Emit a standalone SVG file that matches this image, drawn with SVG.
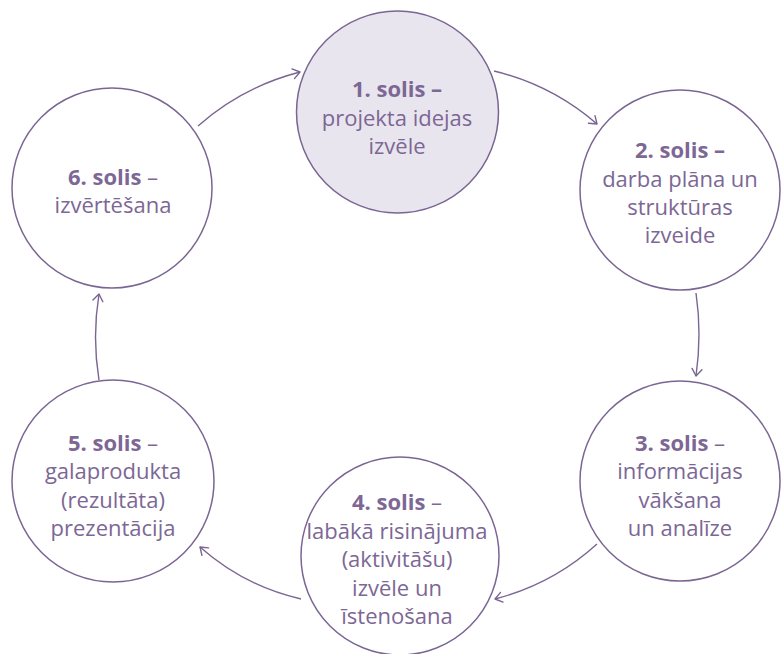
<svg xmlns="http://www.w3.org/2000/svg" width="781" height="654" viewBox="0 0 781 654">
<style>
.c{fill:#ffffff;stroke:#7a6593;stroke-width:1.5}
.c1{fill:#e9e5ee}
text{font-family:"Open Sans","Noto Sans","Liberation Sans",sans-serif;font-size:22px;fill:#7c6795;text-anchor:middle}
.b{font-weight:700}
.n{font-weight:400}
.e{fill:none;stroke:#7a6593;stroke-width:1.4}
</style>
<defs>
<marker id="ah" markerUnits="userSpaceOnUse" markerWidth="14" markerHeight="14" viewBox="0 0 14 14" refX="11" refY="7" orient="auto">
<path d="M4,2 L11,7 L4,12" fill="none" stroke="#7a6593" stroke-width="1.4" stroke-linecap="round" stroke-linejoin="round"/>
</marker>
</defs>
<g id="connectors">
<path class="e" d="M198,126 Q242,87 300,72" marker-end="url(#ah)"/>
<path class="e" d="M494,71 Q552,85 597,124" marker-end="url(#ah)"/>
<path class="e" d="M696,293 Q702,334 696,376" marker-end="url(#ah)"/>
<path class="e" d="M597,544 Q553,584 495,599" marker-end="url(#ah)"/>
<path class="e" d="M301,599 Q244,586 200,547" marker-end="url(#ah)"/>
<path class="e" d="M99,380 Q92,337 99,294" marker-end="url(#ah)"/>
</g>
<g id="step1">
<circle class="c c1" cx="397.5" cy="112" r="101"/>
<text x="397" y="97"><tspan class="b">1. solis –</tspan></text>
<text x="397" y="126">projekta idejas</text>
<text x="397" y="154">izvēle</text>
</g>
<g id="step2">
<circle class="c" cx="680" cy="190" r="100"/>
<text x="680" y="158"><tspan class="b">2. solis –</tspan></text>
<text x="680" y="187">darba plāna un</text>
<text x="680" y="215">struktūras</text>
<text x="680" y="243">izveide</text>
</g>
<g id="step3">
<circle class="c" cx="680" cy="481" r="100"/>
<text x="680" y="451"><tspan class="b">3. solis</tspan> –</text>
<text x="680" y="479">informācijas</text>
<text x="680" y="508">vākšana</text>
<text x="680" y="536">un analīze</text>
</g>
<g id="step4">
<circle class="c" cx="400" cy="556" r="99"/>
<text x="397" y="510"><tspan class="b">4. solis</tspan> –</text>
<text x="397" y="539">labākā risinājuma</text>
<text x="397" y="567">(aktivitāšu)</text>
<text x="397" y="596">izvēle un</text>
<text x="397" y="624">īstenošana</text>
</g>
<g id="step5">
<circle class="c" cx="113" cy="481" r="101"/>
<text x="113" y="451"><tspan class="b">5. solis</tspan> –</text>
<text x="113" y="479">galaprodukta</text>
<text x="113" y="508">(rezultāta)</text>
<text x="113" y="536">prezentācija</text>
</g>
<g id="step6">
<circle class="c" cx="112" cy="188" r="100"/>
<text x="113" y="185"><tspan class="b">6. solis</tspan> –</text>
<text x="113" y="213">izvērtēšana</text>
</g>
</svg>
